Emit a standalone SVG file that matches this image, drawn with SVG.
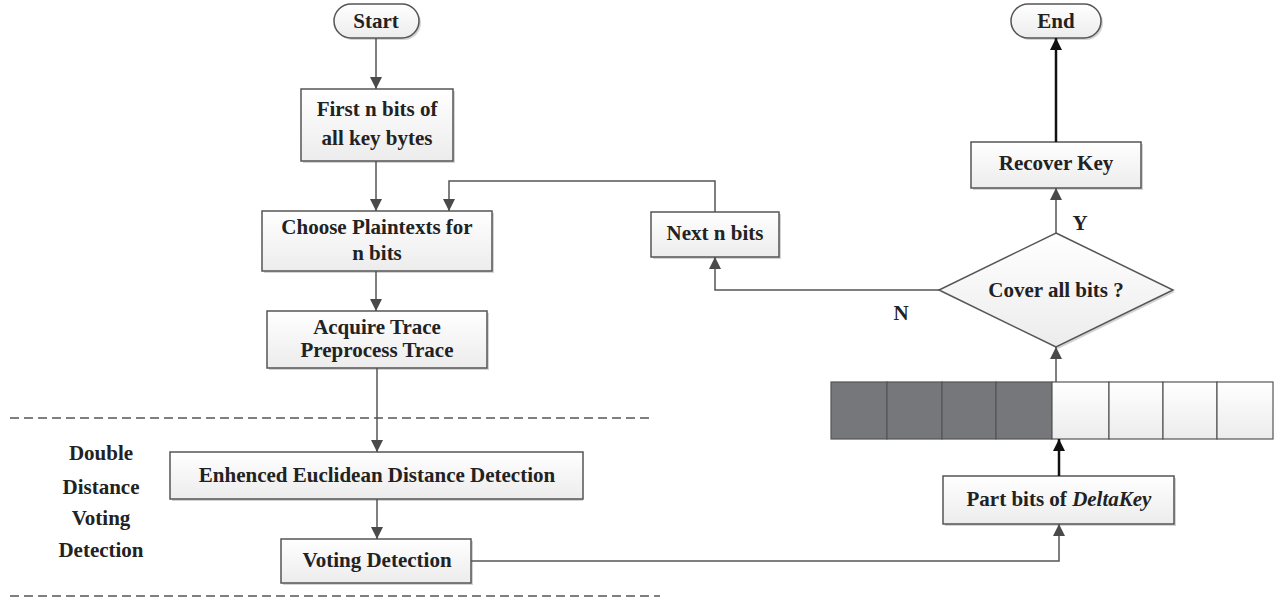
<svg xmlns="http://www.w3.org/2000/svg" width="1277" height="599" viewBox="0 0 1277 599">
<defs>
<linearGradient id="bg" x1="0" y1="0" x2="0" y2="1">
<stop offset="0" stop-color="#ffffff"/>
<stop offset="1" stop-color="#ececec"/>
</linearGradient>
<marker id="ah" viewBox="0 0 12 12" refX="12" refY="6" markerWidth="12" markerHeight="12" markerUnits="userSpaceOnUse" orient="auto">
<path d="M0,0 L12,6 L0,12 Z" fill="#4a4a4a"/>
</marker>
<marker id="ahk" viewBox="0 0 12 12" refX="12" refY="6" markerWidth="12" markerHeight="12" markerUnits="userSpaceOnUse" orient="auto">
<path d="M0,0 L12,6 L0,12 Z" fill="#111"/>
</marker>
</defs>
<style>
.box{fill:url(#bg);stroke:#555;stroke-width:1.5}
.sh{fill:#d4d4d4}
.t{font-family:"Liberation Serif",serif;font-weight:bold;font-size:21px;fill:#222;text-anchor:middle}
.c{fill:none;stroke:#555;stroke-width:1.5}
.ck{fill:none;stroke:#111;stroke-width:2.5}
.d{fill:none;stroke:#555;stroke-width:1.3;stroke-dasharray:9 5}
.dk{fill:#76777a;stroke:#555;stroke-width:1.2}
.lt{fill:url(#bg);stroke:#555;stroke-width:1.2}
</style>
<rect width="1277" height="599" fill="#fff"/>
<g id="dividers">
<line class="d" x1="10" y1="418" x2="652" y2="418"/>
<line class="d" x1="10" y1="596" x2="660" y2="596"/>
</g>
<g id="start">
<rect class="sh" x="336" y="6" width="85" height="34" rx="17"/>
<rect class="box" x="334" y="4" width="85" height="34" rx="17"/>
<text class="t" x="376" y="28">Start</text>
</g>
<g id="firstbits">
<rect class="sh" x="303" y="91" width="152" height="72"/>
<rect class="box" x="301" y="89" width="152" height="72"/>
<text class="t" x="377" y="116">First n bits of</text>
<text class="t" x="377" y="145">all key bytes</text>
</g>
<g id="choose">
<rect class="sh" x="264" y="213" width="230" height="60"/>
<rect class="box" x="262" y="211" width="230" height="60"/>
<text class="t" x="377" y="234">Choose Plaintexts for</text>
<text class="t" x="377" y="260">n bits</text>
</g>
<g id="acquire">
<rect class="sh" x="269" y="313" width="220" height="57"/>
<rect class="box" x="267" y="311" width="220" height="57"/>
<text class="t" x="377" y="334">Acquire Trace</text>
<text class="t" x="377" y="357">Preprocess Trace</text>
</g>
<g id="label">
<text class="t" x="101" y="460">Double</text>
<text class="t" x="101" y="494">Distance</text>
<text class="t" x="101" y="525">Voting</text>
<text class="t" x="101" y="557">Detection</text>
</g>
<g id="euclid">
<rect class="sh" x="172" y="454" width="411" height="47"/>
<rect class="box" x="170" y="452" width="413" height="47"/>
<text class="t" x="377" y="482">Enhenced Euclidean Distance Detection</text>
</g>
<g id="voting">
<rect class="sh" x="283" y="541" width="190" height="44"/>
<rect class="box" x="281" y="539" width="190" height="44"/>
<text class="t" x="377" y="567">Voting Detection</text>
</g>
<g id="nextbits">
<rect class="sh" x="653" y="214" width="128" height="45"/>
<rect class="box" x="651" y="212" width="128" height="45"/>
<text class="t" x="715" y="240">Next n bits</text>
</g>
<g id="partbits">
<rect class="sh" x="945" y="478" width="231" height="48"/>
<rect class="box" x="943" y="476" width="231" height="48"/>
<text class="t" x="1059" y="506">Part bits of <tspan font-style="italic">DeltaKey</tspan></text>
</g>
<g id="register">
<rect class="dk" x="831" y="382" width="56" height="57"/>
<rect class="dk" x="887" y="382" width="55" height="57"/>
<rect class="dk" x="942" y="382" width="54" height="57"/>
<rect class="dk" x="996" y="382" width="56" height="57"/>
<rect class="lt" x="1052" y="382" width="57" height="57"/>
<rect class="lt" x="1109" y="382" width="54" height="57"/>
<rect class="lt" x="1163" y="382" width="54" height="57"/>
<rect class="lt" x="1217" y="382" width="56" height="57"/>
</g>
<g id="decision">
<path class="sh" d="M1058,235 L1175,292 L1058,349 L941,292 Z"/>
<path class="box" d="M1056,233 L1173,290 L1056,347 L939,290 Z"/>
<text class="t" x="1056" y="297">Cover all bits ?</text>
</g>
<g id="recover">
<rect class="sh" x="973" y="144" width="170" height="46"/>
<rect class="box" x="971" y="142" width="170" height="46"/>
<text class="t" x="1056" y="170">Recover Key</text>
</g>
<g id="end">
<rect class="sh" x="1013" y="6" width="90" height="34" rx="17"/>
<rect class="box" x="1011" y="4" width="90" height="34" rx="17"/>
<text class="t" x="1056" y="28">End</text>
</g>
<g id="connectors">
<line class="c" x1="376" y1="38" x2="376" y2="89" marker-end="url(#ah)"/>
<line class="c" x1="376" y1="161" x2="376" y2="211" marker-end="url(#ah)"/>
<line class="c" x1="376" y1="271" x2="376" y2="311" marker-end="url(#ah)"/>
<line class="c" x1="377" y1="368" x2="377" y2="452" marker-end="url(#ah)"/>
<line class="c" x1="377" y1="499" x2="377" y2="539" marker-end="url(#ah)"/>
<polyline class="c" points="471,561 1059,561 1059,524" marker-end="url(#ah)"/>
<line class="ck" x1="1059" y1="476" x2="1059" y2="439" marker-end="url(#ahk)"/>
<line class="c" x1="1056" y1="382" x2="1056" y2="347" marker-end="url(#ah)"/>
<line class="c" x1="1056" y1="233" x2="1056" y2="188" marker-end="url(#ah)"/>
<line class="ck" x1="1056" y1="142" x2="1056" y2="38" marker-end="url(#ahk)"/>
<polyline class="c" points="939,290 715,290 715,257" marker-end="url(#ah)"/>
<polyline class="c" points="715,212 715,181 449,181 449,211" marker-end="url(#ah)"/>
<text class="t" x="1080" y="230">Y</text>
<text class="t" x="901" y="320">N</text>
</g>
</svg>
